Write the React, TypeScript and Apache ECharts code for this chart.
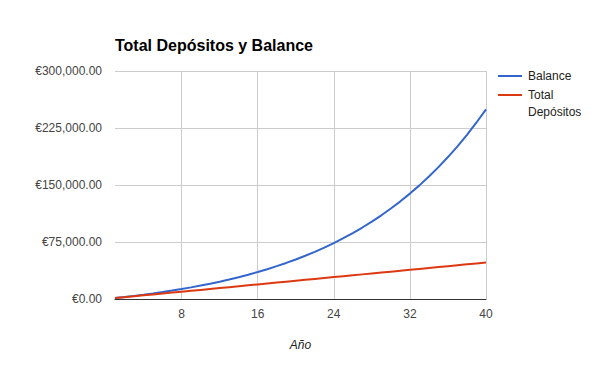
import React, { useEffect, useRef } from "react";
import * as echarts from "echarts";

const years = [1,2,3,4,5,6,7,8,9,10,11,12,13,14,15,16,17,18,19,20,21,22,23,24,25,26,27,28,29,30,31,32,33,34,35,36,37,38,39,40];
const balance = [1283,2654,4120,5687,7362,9153,11067,13113,15301,17640,20140,22812,25669,28723,31988,35478,39209,43197,47460,52018,56890,62098,67666,73618,79980,86781,94052,101824,110133,119015,128510,138660,149510,161109,173508,186763,200932,216079,232271,249580];
const deposits = [1200,2400,3600,4800,6000,7200,8400,9600,10800,12000,13200,14400,15600,16800,18000,19200,20400,21600,22800,24000,25200,26400,27600,28800,30000,31200,32400,33600,34800,36000,37200,38400,39600,40800,42000,43200,44400,45600,46800,48000];
const xTicks = [8, 16, 24, 32, 40];
const seriesNames = ["Balance", "Total Depósitos"];
const colors = ["#3366cc", "#dc3912"];

const FONT = "Liberation Sans, Arial, sans-serif";

export default function App() {
  const ref = useRef<HTMLDivElement>(null);
  useEffect(() => {
    if (!ref.current) return;
    const chart = echarts.init(ref.current, undefined, { renderer: "svg" });
    chart.setOption({
      animation: false,
      textStyle: { fontFamily: FONT },
      title: {
        text: "Total Depósitos y Balance",
        left: 110,
        top: 32,
        textStyle: { fontSize: 16, fontWeight: "bold", color: "#000", fontFamily: FONT },
      },
      grid: { left: 115, right: 114, top: 71, bottom: 72, containLabel: false },
      xAxis: {
        type: "value",
        min: 1,
        max: 40,
        name: "Año",
        nameLocation: "middle",
        nameGap: 40,
        nameTextStyle: { fontStyle: "italic", fontSize: 12, color: "#222", fontFamily: FONT },
        axisLine: { show: true, onZero: false, lineStyle: { color: "#333", width: 1 } },
        axisTick: { show: false, customValues: xTicks },
        axisLabel: { customValues: xTicks, color: "#444", fontSize: 12, margin: 9, fontFamily: FONT },
        splitLine: { show: true, lineStyle: { color: "#cccccc", width: 1 } },
      },
      yAxis: {
        type: "value",
        min: 0,
        max: 300000,
        interval: 75000,
        axisLine: { show: false },
        axisTick: { show: false },
        axisLabel: {
          color: "#444",
          fontSize: 12,
          margin: 13,
          fontFamily: FONT,
          formatter: (v: number) =>
            "€" + v.toLocaleString("en-US", { minimumFractionDigits: 2, maximumFractionDigits: 2 }),
        },
        splitLine: { show: true, lineStyle: { color: "#cccccc", width: 1 } },
      },
      series: [
        {
          name: seriesNames[0],
          type: "line",
          data: years.map((y, i) => [y, balance[i]]),
          showSymbol: false,
          lineStyle: { color: colors[0], width: 2 },
          itemStyle: { color: colors[0] },
        },
        {
          name: seriesNames[1],
          type: "line",
          data: years.map((y, i) => [y, deposits[i]]),
          showSymbol: false,
          lineStyle: { color: colors[1], width: 2 },
          itemStyle: { color: colors[1] },
        },
      ],
      graphic: [
        { type: "line", shape: { x1: 498, y1: 76, x2: 522, y2: 76 }, style: { stroke: colors[0], lineWidth: 2 } },
        { type: "text", x: 528, y: 76, style: { text: seriesNames[0], fill: "#222", font: `12px ${FONT}`, verticalAlign: "middle" } },
        { type: "line", shape: { x1: 498, y1: 95, x2: 522, y2: 95 }, style: { stroke: colors[1], lineWidth: 2 } },
        { type: "text", x: 528, y: 95, style: { text: "Total", fill: "#222", font: `12px ${FONT}`, verticalAlign: "middle" } },
        { type: "text", x: 528, y: 112, style: { text: "Depósitos", fill: "#222", font: `12px ${FONT}`, verticalAlign: "middle" } },
      ],
    });
    return () => chart.dispose();
  }, []);
  return <div ref={ref} style={{ width: 600, height: 371, position: "absolute", left: 0, top: 0 }} />;
}
